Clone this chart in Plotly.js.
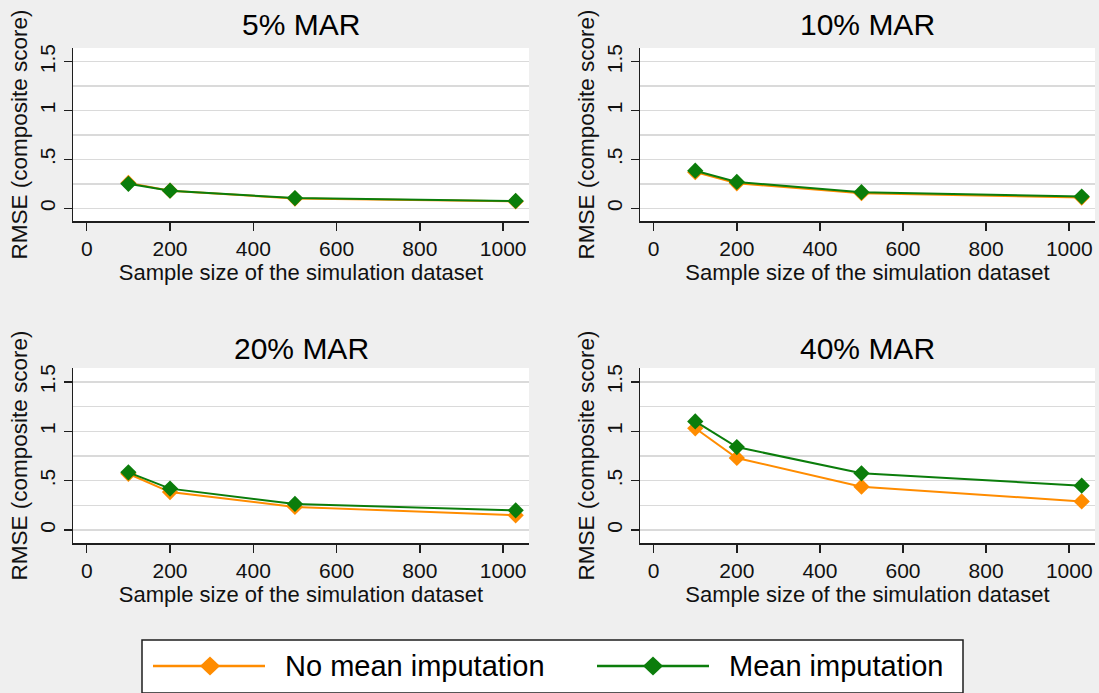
<!DOCTYPE html>
<html>
<head>
<meta charset="utf-8">
<script src="https://cdn.plot.ly/plotly-3.0.1.min.js"></script>
<style>
  html, body { margin: 0; padding: 0; background: #efefef; }
  #chart { width: 1099px; height: 693px; }
</style>
</head>
<body>
<div id="chart"></div>
<script>
// Sample sizes of the simulated datasets
const sampleSizes = [100, 200, 500, 1030];

// Panel titles (share of values missing at random)
const panelTitles = ['5% MAR', '10% MAR', '20% MAR', '40% MAR'];

// RMSE of the composite score, without mean imputation
const noMean5  = [0.26, 0.18, 0.10, 0.07];
const noMean10 = [0.37, 0.255, 0.155, 0.11];
const noMean20 = [0.57, 0.385, 0.235, 0.15];
const noMean40 = [1.03, 0.73, 0.44, 0.29];

// RMSE of the composite score, with mean imputation
const mean5  = [0.25, 0.18, 0.105, 0.075];
const mean10 = [0.385, 0.27, 0.165, 0.12];
const mean20 = [0.585, 0.42, 0.265, 0.20];
const mean40 = [1.10, 0.84, 0.575, 0.45];

// Axis ticks
const xTickVals = [0, 200, 400, 600, 800, 1000];
const yTickVals = [0, 0.5, 1, 1.5];
const yTickText = ['0', '.5', '1', '1.5'];

// Legend labels
const seriesNames = ['No mean imputation', 'Mean imputation'];

const noMeanSeries = [noMean5, noMean10, noMean20, noMean40];
const meanSeries = [mean5, mean10, mean20, mean40];

const W = 1099, H = 693;
const ORANGE = '#ff8c00';
const GREEN = '#0b7d0b';
const AXIS = '#1e1e1e';
const GRID = '#dadada';
const FONT = 'Liberation Sans, Arial, sans-serif';

// pixel boxes of the four plot areas: [left, right, top, bottom], plus title centre
const boxes = [
  {l: 73, r: 529, t: 48, b: 221, ty: 25},
  {l: 640, r: 1095, t: 48, b: 221, ty: 25},
  {l: 73, r: 529, t: 368, b: 543, ty: 348},
  {l: 640, r: 1095, t: 368, b: 543, ty: 348}
];
const px = v => v / W;
const py = v => 1 - v / H;

const traces = [];
const layout = {
  width: W, height: H,
  margin: {l: 0, r: 0, t: 0, b: 0},
  paper_bgcolor: '#efefef',
  plot_bgcolor: '#ffffff',
  showlegend: false,
  font: {family: FONT, color: '#000'},
  annotations: [],
  shapes: []
};

boxes.forEach((b, i) => {
  const n = i + 1;
  const xa = n === 1 ? 'x' : 'x' + n;
  const ya = n === 1 ? 'y' : 'y' + n;
  traces.push({
    x: sampleSizes, y: noMeanSeries[i], xaxis: xa, yaxis: ya,
    type: 'scatter', mode: 'lines+markers', name: seriesNames[0],
    line: {color: ORANGE, width: 2},
    marker: {symbol: 'diamond', size: 12.5, color: ORANGE}
  });
  traces.push({
    x: sampleSizes, y: meanSeries[i], xaxis: xa, yaxis: ya,
    type: 'scatter', mode: 'lines+markers', name: seriesNames[1],
    line: {color: GREEN, width: 2},
    marker: {symbol: 'diamond', size: 12.5, color: GREEN}
  });
  layout['xaxis' + (n === 1 ? '' : n)] = {
    domain: [px(b.l), px(b.r)],
    anchor: ya,
    range: [-33, 1062],
    tickvals: xTickVals,
    ticks: 'outside', ticklen: 8, tickwidth: 1.5, tickcolor: AXIS,
    showline: true, linecolor: AXIS, linewidth: 1.5,
    showgrid: false, zeroline: false,
    tickfont: {size: 21, family: FONT, color: '#111'},
    title: {text: 'Sample size of the simulation dataset', font: {size: 22, family: FONT, color: '#111'}, standoff: 0}
  };
  layout['yaxis' + (n === 1 ? '' : n)] = {
    domain: [py(b.b), py(b.t)],
    anchor: xa,
    range: [-0.13, 1.64],
    tickvals: yTickVals, ticktext: yTickText,
    tickangle: -90,
    ticks: 'outside', ticklen: 8, tickwidth: 1.5, tickcolor: AXIS,
    showline: true, linecolor: AXIS, linewidth: 1.5,
    showgrid: true, gridcolor: GRID, gridwidth: 1.5,
    minor: {dtick: 0.25, tick0: 0, showgrid: true, gridcolor: GRID, gridwidth: 1.5, ticks: ''},
    zeroline: false,
    tickfont: {size: 21, family: FONT, color: '#111'},
    title: {text: 'RMSE (composite score)', font: {size: 22.5, family: FONT, color: '#111'}, standoff: 2}
  };
  layout.annotations.push({
    text: panelTitles[i], xref: 'paper', yref: 'paper',
    x: px((b.l + b.r) / 2), y: py(b.ty),
    xanchor: 'center', yanchor: 'middle', showarrow: false,
    font: {size: 30, family: FONT, color: '#000'}
  });
});

// Legend box with line-and-diamond keys
layout.shapes.push({
  type: 'rect', xref: 'paper', yref: 'paper',
  x0: px(142), x1: px(963), y0: py(693), y1: py(640),
  line: {color: AXIS, width: 1.5}, fillcolor: '#ffffff', layer: 'below'
});
const keys = [
  {x0: 153, x1: 265, xm: 210, tx: 283, color: ORANGE, label: seriesNames[0]},
  {x0: 597, x1: 709, xm: 653, tx: 727, color: GREEN, label: seriesNames[1]}
];
const ky = 666;
keys.forEach(k => {
  layout.shapes.push({
    type: 'line', xref: 'paper', yref: 'paper',
    x0: px(k.x0), x1: px(k.x1), y0: py(ky), y1: py(ky),
    line: {color: k.color, width: 2.5}
  });
  const hw = 10, hh = 9.5;
  layout.shapes.push({
    type: 'path', xref: 'paper', yref: 'paper',
    path: `M ${px(k.xm)} ${py(ky - hh)} L ${px(k.xm + hw)} ${py(ky)} L ${px(k.xm)} ${py(ky + hh)} L ${px(k.xm - hw)} ${py(ky)} Z`,
    fillcolor: k.color, line: {color: k.color, width: 0}
  });
  layout.annotations.push({
    text: k.label, xref: 'paper', yref: 'paper',
    x: px(k.tx), y: py(ky), xanchor: 'left', yanchor: 'middle',
    showarrow: false, font: {size: 29, family: FONT, color: '#000'}
  });
});

Plotly.newPlot('chart', traces, layout, {displayModeBar: false, staticPlot: true});
</script>
</body>
</html>
